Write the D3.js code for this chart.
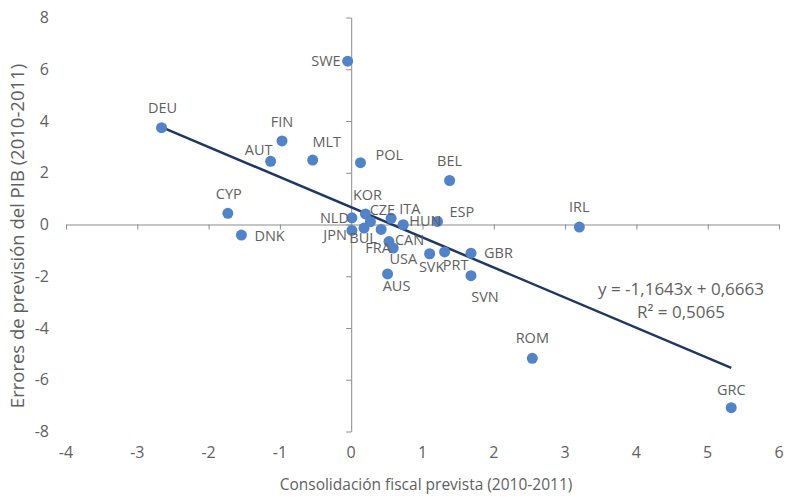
<!DOCTYPE html>
<html>
<head>
<meta charset="utf-8">
<script src="https://cdn.jsdelivr.net/npm/d3@7"></script>
<style>
  html, body { margin: 0; padding: 0; background: #fff; }
  svg { display: block; font-family: "Open Sans", "Lato", sans-serif; }
</style>
</head>
<body>
<svg id="chart" width="786" height="499"></svg>
<script>
// ---- data ----
const countries = ["SWE","DEU","FIN","AUT","MLT","POL","BEL","CYP","DNK","IRL","ROM","GRC","SVN","GBR","PRT","SVK","AUS","USA","CAN","FRA","BUL","JPN","NLD","KOR","CZE","ITA","HUN","ESP"];
const consolidation = [-0.05,-2.66,-0.97,-1.13,-0.54,0.13,1.38,-1.73,-1.54,3.20,2.54,5.33,1.68,1.68,1.31,1.10,0.51,0.59,0.53,0.42,0.18,0.01,0.01,0.20,0.27,0.56,0.73,1.21];
const forecastError = [6.31,3.74,3.23,2.44,2.49,2.39,1.70,0.43,-0.41,-0.10,-5.17,-7.08,-1.98,-1.11,-1.06,-1.13,-1.91,-0.91,-0.66,-0.19,-0.14,-0.23,0.26,0.41,0.11,0.24,-0.01,0.12];
const xTicks = [-4,-3,-2,-1,0,1,2,3,4,5,6];
const yTicks = [-8,-6,-4,-2,0,2,4,6,8];
const trendSlope = -1.1643;
const trendIntercept = 0.6663;
const equationText = "y = -1,1643x + 0,6663";
const r2Text = "R² = 0,5065";
const xTitle = "Consolidación fiscal prevista (2010-2011)";
const yTitle = "Errores de previsión del PIB (2010-2011)";

// label placement relative to its point (style): [dx, dy, anchor]
const labelOffset = {
  SWE:[-7,0,"end"], DEU:[1,-20,"middle"], FIN:[0,-19,"middle"], AUT:[-12,-11,"middle"],
  MLT:[14,-18,"middle"], POL:[15,-8,"start"], BEL:[0,-20,"middle"], CYP:[1,-19,"middle"],
  DNK:[13,1,"start"], IRL:[0,-20,"middle"], ROM:[0,-20,"middle"], GRC:[0,-18,"middle"],
  SVN:[14,21,"middle"], GBR:[13,0,"start"], PRT:[11,13,"middle"], SVK:[2,13,"middle"],
  AUS:[9,12,"middle"], USA:[10,11,"middle"], CAN:[6,-2,"start"], FRA:[-3,19,"middle"],
  BUL:[-1,10,"middle"], JPN:[-5,4,"end"], NLD:[-3,0,"end"], KOR:[2,-19,"middle"],
  CZE:[12,-12,"middle"], ITA:[8,-9,"start"], HUN:[6,-4,"start"], ESP:[12,-9,"start"]
};

const svg = d3.select("#chart");
const x = d3.scaleLinear().domain([-4, 6]).range([66, 779]);
const y = d3.scaleLinear().domain([-8, 8]).range([431.5, 17.5]);

const axisColor = "#8c8c8c";
const textColor = "#5f5f5f";

// x axis line at y = 0
const xAxis = svg.append("g").attr("transform", `translate(0,${y(0)})`)
  .call(d3.axisBottom(x).tickValues(xTicks).tickSize(5).tickSizeOuter(0).tickFormat(""));
xAxis.select(".domain").attr("stroke", axisColor);
xAxis.selectAll(".tick line").attr("stroke", axisColor);

// y axis line at x = 0
const yAxis = svg.append("g").attr("transform", `translate(${x(0)},0)`)
  .call(d3.axisLeft(y).tickValues(yTicks).tickSize(5).tickSizeOuter(0).tickFormat(""));
yAxis.select(".domain").attr("stroke", axisColor);
yAxis.selectAll(".tick line").attr("stroke", axisColor);

// tick labels (low position)
svg.append("g").selectAll("text").data(xTicks).join("text")
  .attr("x", d => x(d)).attr("y", 452).attr("dy", "0.35em")
  .attr("text-anchor", "middle").attr("font-size", 16).attr("fill", textColor)
  .text(d => d);
svg.append("g").selectAll("text").data(yTicks).join("text")
  .attr("x", 49).attr("y", d => y(d)).attr("dy", "0.35em")
  .attr("text-anchor", "end").attr("font-size", 16).attr("fill", textColor)
  .text(d => d);

// axis titles
svg.append("text").attr("x", 426).attr("y", 490).attr("text-anchor", "middle")
  .attr("font-size", 15.5).attr("fill", textColor).text(xTitle);
svg.append("text").attr("transform", `translate(24,236) rotate(-90)`)
  .attr("text-anchor", "middle").attr("font-size", 18.5).attr("fill", textColor).text(yTitle);

// trend line
const xMin = d3.min(consolidation), xMax = d3.max(consolidation);
svg.append("line")
  .attr("x1", x(xMin)).attr("y1", y(trendSlope * xMin + trendIntercept))
  .attr("x2", x(xMax)).attr("y2", y(trendSlope * xMax + trendIntercept))
  .attr("stroke", "#1f3763").attr("stroke-width", 2.5);

// points
const pts = countries.map((c, i) => ({c, x: consolidation[i], y: forecastError[i]}));
svg.append("g").selectAll("circle").data(pts).join("circle")
  .attr("cx", d => x(d.x)).attr("cy", d => y(d.y)).attr("r", 5.5)
  .attr("fill", "#5183c6");

// data labels
svg.append("g").selectAll("text").data(pts).join("text")
  .attr("x", d => x(d.x) + labelOffset[d.c][0])
  .attr("y", d => y(d.y) + labelOffset[d.c][1])
  .attr("dy", "0.35em")
  .attr("text-anchor", d => labelOffset[d.c][2])
  .attr("font-size", 14.5).attr("fill", textColor)
  .text(d => d.c);

// equation
svg.append("text").attr("x", 681).attr("y", 289).attr("dy", "0.35em").attr("text-anchor", "middle")
  .attr("font-size", 17).attr("fill", textColor).text(equationText);
svg.append("text").attr("x", 681).attr("y", 312).attr("dy", "0.35em").attr("text-anchor", "middle")
  .attr("font-size", 17).attr("fill", textColor).text(r2Text);
</script>
</body>
</html>
